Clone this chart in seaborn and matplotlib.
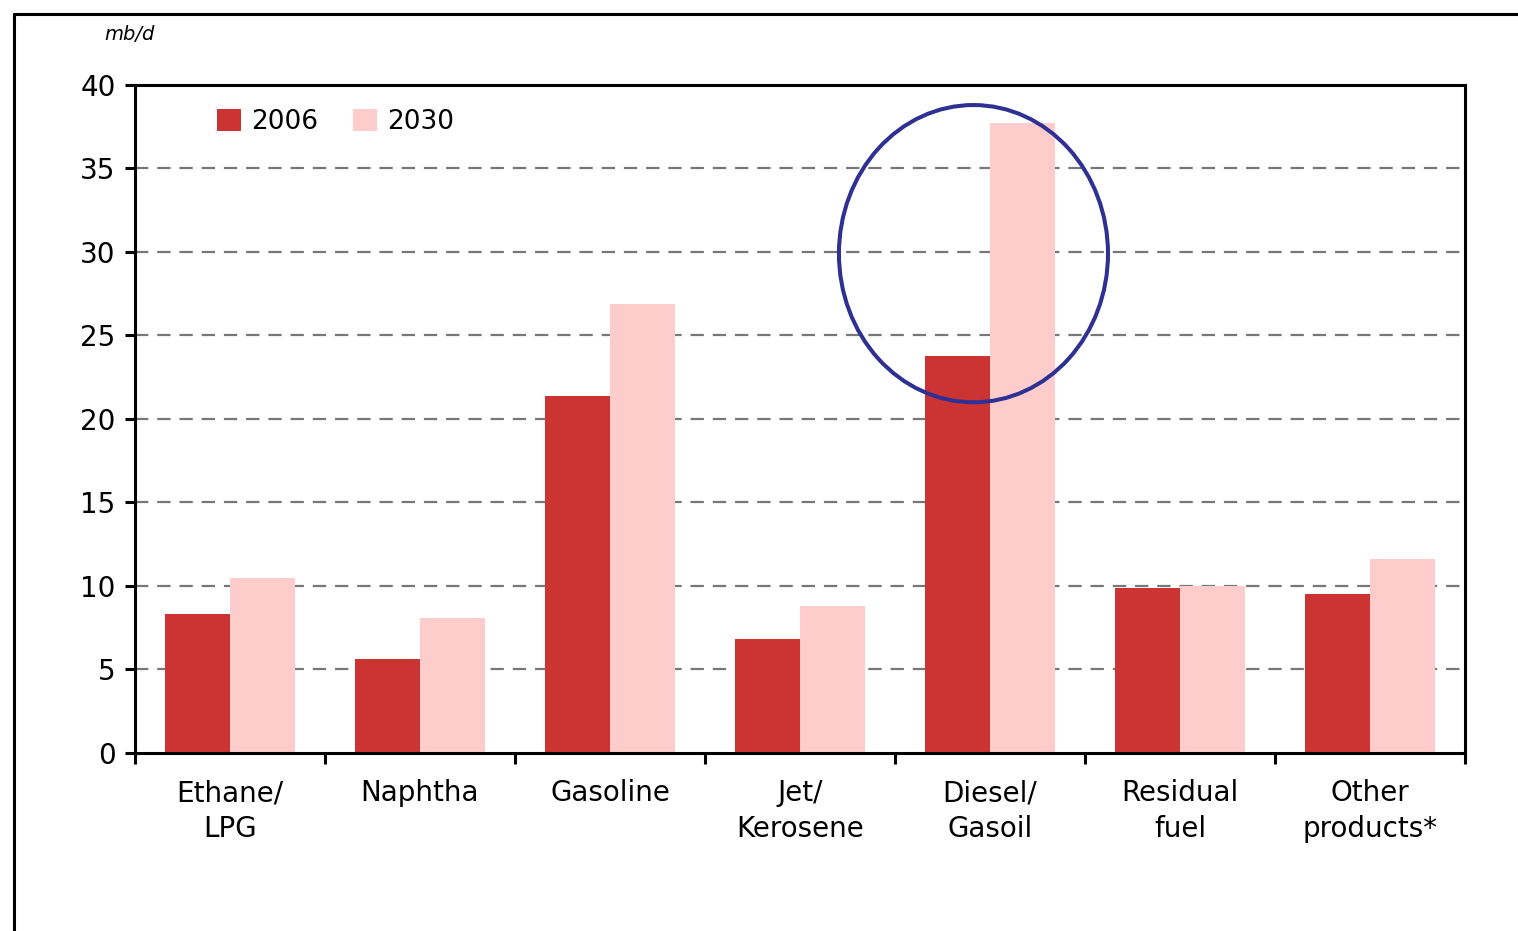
import pandas as pd
import numpy as np
import matplotlib
matplotlib.use("Agg")
import matplotlib.pyplot as plt
from matplotlib.patches import Ellipse
from matplotlib.lines import Line2D
import seaborn as sns

# Data
products = ["Ethane/\nLPG", "Naphtha", "Gasoline", "Jet/\nKerosene",
            "Diesel/\nGasoil", "Residual\nfuel", "Other\nproducts*"]
years = ["2006", "2030"]
values_2006 = [8.3, 5.6, 21.4, 6.8, 23.8, 9.9, 9.5]
values_2030 = [10.5, 8.1, 26.9, 8.8, 37.7, 10.0, 11.6]
y_ticks = [0, 5, 10, 15, 20, 25, 30, 35, 40]
colors = ["#CC3333", "#FFCCCC"]

df = pd.DataFrame({
    "product": products * 2,
    "year": [years[0]] * len(products) + [years[1]] * len(products),
    "value": values_2006 + values_2030,
})

sns.set_style("white")
plt.rcParams["font.family"] = ["DejaVu Sans"]
plt.rcParams["text.color"] = "black"
plt.rcParams["xtick.color"] = "black"
plt.rcParams["ytick.color"] = "black"

fig = plt.figure(figsize=(15.18, 9.31), dpi=100)
ax = fig.add_axes([0.0889, 0.1912, 0.8762, 0.7175])

sns.barplot(data=df, x="product", y="value", hue="year", palette=colors,
            width=0.684, saturation=1, linewidth=0, gap=0, ax=ax)

ax.set_xlim(-0.5, 6.5)
ax.set_ylim(0, 40)
ax.set_yticks(y_ticks)
ax.set_yticklabels([str(t) for t in y_ticks], fontsize=20)
ax.set_xlabel("")
ax.set_ylabel("")

# dashed grid
for t in y_ticks[1:-1]:
    ax.axhline(t, color="#777777", lw=1.6, ls=(0, (6, 4)), zorder=0)
ax.set_axisbelow(True)

# category boundary ticks
ax.set_xticks(np.arange(-0.5, 7, 1), minor=True)
ax.tick_params(axis="x", which="major", length=0, pad=19, labelsize=20)
ax.tick_params(axis="x", which="minor", length=8, width=2.2, direction="out", bottom=True)
ax.tick_params(axis="y", length=7, width=2.2, direction="out", left=True, pad=7)
for lbl in ax.get_xticklabels():
    lbl.set_linespacing(1.35)

for s in ax.spines.values():
    s.set_visible(True)
    s.set_color("black")
    s.set_linewidth(2.2)

# legend
leg = ax.legend(loc="upper left", bbox_to_anchor=(0.044, 1.0), frameon=False,
                ncol=2, fontsize=19, handlelength=0.9, handleheight=0.9,
                handletextpad=0.4, columnspacing=1.3)

# highlight circle around diesel
circle = Ellipse((3.913, 29.9), width=1.416, height=17.8, fill=False,
                 edgecolor="#2E3192", lw=2.9, zorder=5)
ax.add_patch(circle)

# unit label
fig.text(0.069, 0.963, "mb/d", style="italic", fontsize=14, ha="left", va="center")

# outer frame lines
fig.add_artist(Line2D([0.0092, 1.0], [0.985, 0.985], color="black", lw=2.2,
                      transform=fig.transFigure))
fig.add_artist(Line2D([0.0092, 0.0092], [0.0, 0.985], color="black", lw=2.2,
                      transform=fig.transFigure))

fig.savefig("out.png", dpi=100)
